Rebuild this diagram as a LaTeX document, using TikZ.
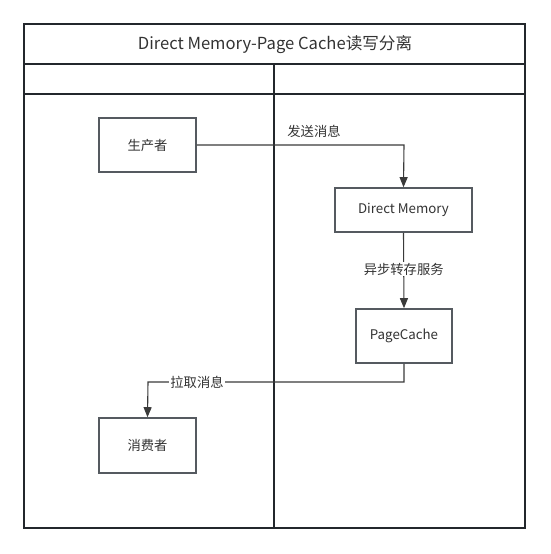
\documentclass[tikz,border=0pt]{standalone}
\usepackage{fontspec}
\setmainfont{Noto Sans CJK SC}
\usetikzlibrary{arrows.meta}
\definecolor{frame}{HTML}{23272C}
\definecolor{boxc}{HTML}{555A60}
\definecolor{linec}{HTML}{3A3A3A}
\definecolor{txt}{HTML}{333333}
\tikzset{
  boxnode/.style={draw=boxc, line width=1.6pt, fill=white, text=txt, font=\fontsize{13.3}{15}\selectfont, inner sep=0pt, anchor=center},
  conn/.style={draw=linec, line width=1.1pt, -{Triangle[length=10pt,width=8pt]}},
  lbl/.style={fill=white, text=txt, font=\fontsize{13.3}{15}\selectfont, inner sep=1pt},
  frameline/.style={draw=frame, line width=2pt}
}
\begin{document}
\begin{tikzpicture}[x=1pt,y=-1pt]
\useasboundingbox (0,0) rectangle (550,554);
% frame
\draw[frameline] (24,24) rectangle (525,528);
\draw[frameline] (24,64) -- (525,64);
\draw[frameline] (24,94) -- (525,94);
\draw[frameline] (274,64) -- (274,528);
\node[text=txt, font=\fontsize{16.6}{19}\selectfont] (title) at (275,45) {Direct Memory-Page Cache读写分离};
% boxes
\node[boxnode, minimum width=97pt, minimum height=54pt] (prod) at (147.5,145) {生产者};
\node[boxnode, minimum width=137pt, minimum height=44pt] (dm) at (403.5,210) {Direct Memory};
\node[boxnode, minimum width=96pt, minimum height=54pt] (pc) at (404,336) {PageCache};
\node[boxnode, minimum width=97pt, minimum height=55pt] (cons) at (147.5,445.5) {消费者};
% connectors
\coordinate (c1) at (404,145);
\draw[conn] (prod.east) -- (c1) -- (dm.north);
\node[text=txt, font=\fontsize{13.3}{15}\selectfont] (l1) at (314,131) {发送消息};
\draw[conn] (dm.south) -- (pc.north) node[lbl, midway, pos=0.48] (l2) {异步转存服务};
\coordinate (c2) at (404,382);
\coordinate (c3) at (148,382);
\draw[conn] (pc.south) -- (c2) -- (c3) -- (cons.north);
\node[lbl] (l3) at (197,382.5) {拉取消息};
\end{tikzpicture}
\end{document}
